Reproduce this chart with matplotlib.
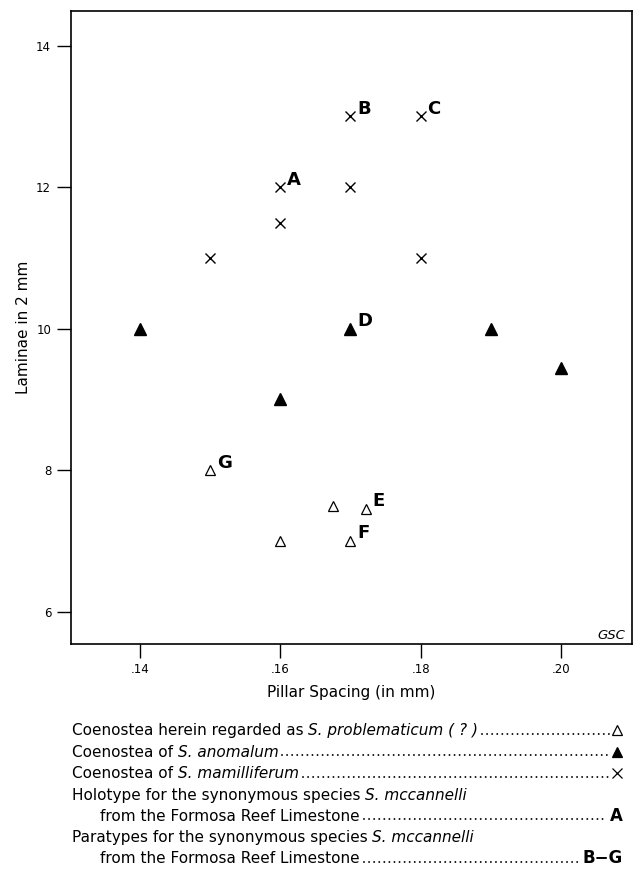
import matplotlib
matplotlib.use('Agg')
import matplotlib.pyplot as plt
from matplotlib.lines import Line2D

plt.rcParams['font.family'] = ['DejaVu Sans']

# Coenostea of S. mamilliferum (crosses)
mam_x = [0.15, 0.16, 0.16, 0.17, 0.17, 0.18, 0.18]
mam_y = [11, 11.5, 12, 12, 13, 13, 11]

# Coenostea of S. anomalum (filled triangles)
ano_x = [0.14, 0.16, 0.17, 0.19, 0.20]
ano_y = [10, 9, 10, 10, 9.45]

# Coenostea regarded as S. problematicum (?) (open triangles)
prob_x = [0.15, 0.16, 0.1675, 0.17, 0.1722]
prob_y = [8, 7, 7.5, 7, 7.45]

# holotype / paratypes of S. mccannelli
spec_labels = ['A', 'B', 'C', 'D', 'E', 'F', 'G']
spec_x = [0.16, 0.17, 0.18, 0.17, 0.1722, 0.17, 0.15]
spec_y = [12, 13, 13, 10, 7.45, 7, 8]

x_ticks = [0.14, 0.16, 0.18, 0.20]
x_ticklabels = ['.14', '.16', '.18', '.20']
y_ticks = [6, 8, 10, 12, 14]

W, H = 635, 872
fig = plt.figure(figsize=(W / 100, H / 100), dpi=100)
ax = fig.add_axes([0.1123, 0.2615, 0.8825, 0.7255])

ax.plot(mam_x, mam_y, ls='none', marker='x', ms=7.0, mew=1.0, color='black')
ax.plot(ano_x, ano_y, ls='none', marker='^', ms=8.5, color='black')
ax.plot(prob_x, prob_y, ls='none', marker='^', ms=6.8, mew=0.9,
        mfc='white', mec='black')

for lab, x, y in zip(spec_labels, spec_x, spec_y):
    ax.annotate(lab, (x, y), xytext=(5.0, 5.5), textcoords='offset points',
                ha='left', va='center', fontsize=13, fontweight='bold')

ax.set_xlim(0.1302, 0.2101)
ax.set_ylim(5.544, 14.486)
ax.set_xticks(x_ticks)
ax.set_xticklabels(x_ticklabels)
ax.set_yticks(y_ticks)
ax.tick_params(direction='out', length=10, width=1.0, labelsize=8.5)
ax.tick_params(axis='x', pad=3.5)
ax.tick_params(axis='y', pad=4.5)
for sp in ax.spines.values():
    sp.set_linewidth(1.2)

ax.set_xlabel('Pillar Spacing (in mm)', fontsize=11)
ax.set_ylabel('Laminae in 2 mm', fontsize=11)
ax.xaxis.set_label_coords(0.5, -0.0648)
ax.yaxis.set_label_coords(-0.0728, 0.5)

ax.text(0.988, 0.0075, 'GSC', transform=ax.transAxes, ha='right',
        va='baseline', style='italic', fontsize=9.5)

# key below the plot
renderer = fig.canvas.get_renderer()


def fx(px):
    return px / W


def fy(py):
    return 1 - py / H


# width of one space at the key font size
_a = fig.text(0, 0, 'x x', fontsize=11)
_b = fig.text(0, 0, 'xx', fontsize=11)
SPACE = _a.get_window_extent(renderer).width - _b.get_window_extent(renderer).width
_a.remove()
_b.remove()


def leader(x0, x1, base):
    fig.add_artist(Line2D([fx(x0), fx(x1)], [fy(base - 1.3), fy(base - 1.3)],
                          transform=fig.transFigure, color='black', lw=1.4,
                          ls=(0, (0.01, 2.6)), dash_capstyle='round'))


def key_line(x, base, parts, symbol=None, letter=None):
    # parts: list of (text, style); a space is put between parts
    for i, (txt, style) in enumerate(parts):
        if i > 0:
            x += SPACE
        t = fig.text(fx(x), fy(base), txt, fontsize=11, style=style,
                     ha='left', va='baseline')
        x = t.get_window_extent(renderer).x1
    if symbol is not None:
        marker, filled = symbol
        fig.add_artist(Line2D([fx(617)], [fy(base - 5)], transform=fig.transFigure,
                              ls='none', marker=marker, color='black',
                              ms=7.5 if marker == '^' else 6.5, mew=0.9,
                              mfc='black' if filled else 'white', mec='black'))
        leader(x + 4, 609, base)
    elif letter is not None:
        lt = fig.text(fx(623), fy(base), letter, fontsize=12, fontweight='bold',
                      ha='right', va='baseline')
        leader(x + 4, lt.get_window_extent(renderer).x0 - 4, base)


key_line(71.7, 735, [('Coenostea herein regarded as', 'normal'),
                     ('S. problematicum ( ? )', 'italic')], symbol=('^', False))
key_line(71.7, 756.5, [('Coenostea of', 'normal'), ('S. anomalum', 'italic')],
         symbol=('^', True))
key_line(71.7, 778, [('Coenostea of', 'normal'), ('S. mamilliferum', 'italic')],
         symbol=('x', True))
key_line(71.7, 799.5, [('Holotype for the synonymous species', 'normal'),
                       ('S. mccannelli', 'italic')])
key_line(100, 820.5, [('from the Formosa Reef Limestone', 'normal')], letter='A')
key_line(71.7, 842, [('Paratypes for the synonymous species', 'normal'),
                     ('S. mccannelli', 'italic')])
key_line(100, 863, [('from the Formosa Reef Limestone', 'normal')], letter='B\u2212G')

fig.savefig('out.png', dpi=100)
